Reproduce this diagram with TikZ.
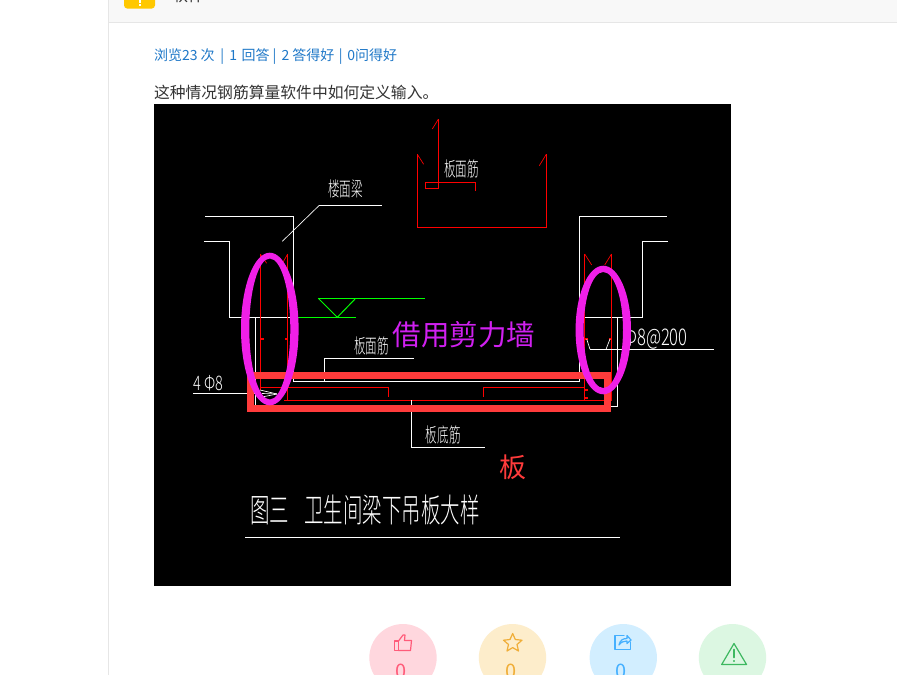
\documentclass[tikz,border=0pt]{standalone}
\usepackage{graphicx}
\usepackage{fontspec}
\setmainfont{Noto Sans CJK SC}
\IfFontExistsTF{Noto Sans CJK SC Light}{\newfontfamily\cadfont{Noto Sans CJK SC Light}}{\newfontfamily\cadfont{Noto Sans CJK SC}}
\newcommand{\pxs}[1]{\fontsize{\dimexpr#1pt*3/4\relax}{\dimexpr#1pt\relax}\selectfont}
\newcommand{\cad}[3]{\scalebox{#2}[1]{\cadfont\pxs{#1}#3}}
\definecolor{pagegray}{HTML}{F8F8F8}
\definecolor{rulegray}{HTML}{E6E6E6}
\definecolor{linkblue}{HTML}{1F78C8}
\definecolor{bodytext}{HTML}{333333}
\definecolor{cadred}{HTML}{FF0000}
\definecolor{cadgreen}{HTML}{00FF00}
\definecolor{markred}{HTML}{FF3B3B}
\definecolor{markmag}{HTML}{F01FE8}
\definecolor{wallmag}{HTML}{D020F0}
\definecolor{gold}{HTML}{FFC800}
\definecolor{likebg}{HTML}{FFD7DE}
\definecolor{favbg}{HTML}{FDEDCB}
\definecolor{sharebg}{HTML}{D2EEFF}
\definecolor{warnbg}{HTML}{DCF7E2}
\definecolor{likefg}{HTML}{FF5C7A}
\definecolor{favfg}{HTML}{F0AE38}
\definecolor{sharefg}{HTML}{45B0FF}
\definecolor{warnfg}{HTML}{3DB860}
\begin{document}
\begin{tikzpicture}[x=0.75pt,y=-0.75pt,
  txt/.style={inner sep=0,outer sep=0,anchor=west},
  lab/.style={inner sep=0,outer sep=0,text=white},
  wline/.style={draw=white,line width=0.75pt},
  thin white/.style={draw=white,line width=0.5pt},
  rline/.style={draw=cadred,line width=0.75pt},
  rthin/.style={draw=cadred,line width=0.5pt},
  gline/.style={draw=cadgreen,line width=0.75pt},
  markbox/.style={draw=markred,line width=5.25pt},
  markell/.style={fill=markmag,even odd rule},
  disc/.style={circle,minimum size=50.5pt,inner sep=0,outer sep=0},
  icon/.style={line width=0.9pt,line join=round,line cap=round}]
\useasboundingbox (0,0) rectangle (897,675);
\clip (0,0) rectangle (897,675);
\fill[white] (0,0) rectangle (897,675);
% page chrome
\fill[pagegray] (109,0) rectangle (897,22);
\draw[rulegray,line width=0.75pt] (109,22.5) -- (897,22.5);
\draw[rulegray,line width=0.75pt] (108.5,0) -- (108.5,675);
\fill[gold,rounded corners=2.5pt] (124,-8) rectangle (155,8.6);
\fill[white] (139,0) rectangle (141,2.8);
\fill[white] (139,3.8) rectangle (141,5.6);
\node[txt,text=bodytext] (headtxt) at (172,-5) {\pxs{16}软件};
\node[txt,text=linkblue] (stats) at (154,56.5) {\pxs{14}浏览23 次\hspace{1.9pt} | \hspace{1.5pt}1\hspace{1pt} 回答 | \hspace{1.5pt}2 答得好\hspace{1pt} | \hspace{1.2pt}0问得好};
\node[txt,text=bodytext] (question) at (154,92.5) {\pxs{15.8}这种情况钢筋算量软件中如何定义输入。};
% drawing
\fill[black] (154,104) rectangle (731,586);
% white outline
\draw[wline] (205,216.7) -- (293.3,216.7) -- (293.3,381) -- (579.7,381) -- (579.7,216.7) -- (666.7,216.7);
\draw[wline] (204,241.7) -- (229.5,241.7) -- (229.5,317.3) -- (293.3,317.3);
\draw[wline] (667.7,241.7) -- (642.3,241.7) -- (642.3,317.3) -- (579.7,317.3);
\draw[wline] (255.3,317.3) -- (255.3,406) -- (617.5,406) -- (617.5,317.3);
% red reinforcement
\draw[rline] (438.3,119.3) -- (438.3,188.3) -- (425.3,188.3) -- (425.3,182.3) -- (475.3,182.3) -- (475.3,190.7);
\draw[rthin] (438.3,119.3) -- (432.3,129);
\draw[rline] (417.3,154.3) -- (417.3,227.3) -- (546.3,227.3) -- (546.3,154.3);
\draw[rthin] (417.3,154.3) -- (423.7,164.3);
\draw[rthin] (546.3,154.3) -- (539.3,165.7);
\draw[rline] (260.3,254) -- (260.3,390);
\draw[rline] (287.7,254) -- (287.7,400);
\draw[rthin] (260.3,254) -- (266.7,263.3);
\draw[rthin] (287.7,254) -- (283.3,261.7);
\draw[rline] (584.7,254) -- (584.7,400);
\draw[rline] (611.5,254) -- (611.5,400);
\draw[rthin] (584.7,254) -- (591.7,265);
\draw[rthin] (611.5,254) -- (604.7,265);
\draw[rline] (260,387.3) -- (388.3,387.3) -- (388.3,396.7);
\draw[rline] (483.3,396.7) -- (483.3,387.3) -- (584.7,387.3);
\draw[rline] (284,400) -- (611.5,400);
\fill[cadred] (261,338) rectangle (264,340);
\fill[cadred] (285,338) rectangle (288,340);
\fill[cadred] (585,338) rectangle (588,340);
\fill[cadred] (609,338) rectangle (612,340);
\fill[cadred] (585,389) rectangle (588,391);
\fill[cadred] (585,397) rectangle (588,399);
% green level mark
\draw[gline] (318.3,298.3) -- (425,298.3);
\draw[gline] (318.3,298.3) -- (337.3,317.3) -- (355.7,298.3);
\draw[gline] (293.3,317.3) -- (355.7,317.3);
% leaders and CAD labels
\draw[thin white] (282.3,241.3) -- (319.3,205.3);
\draw[wline] (319.3,205.3) -- (381.7,205.3);
\node[lab] (beam) at (345.7,189.3) {\cad{20}{.58}{楼面梁}};
\node[lab] (topbar) at (461.7,169.3) {\cad{20}{.58}{板面筋}};
\draw[wline] (324.3,381) -- (324.3,358.7) -- (414,358.7);
\node[lab] (midbar) at (371.7,346) {\cad{20}{.58}{板面筋}};
\draw[wline] (411.7,400) -- (411.7,447.3) -- (485,447.3);
\node[lab] (botbar) at (443.3,435) {\cad{20}{.58}{板底筋}};
\draw[wline] (193,393.3) -- (256,393.3);
\draw[thin white] (260,390) -- (277,394);
\draw[thin white] (262,393.5) -- (277,394);
\draw[thin white] (262,397) -- (277,394);
\node[lab] (tie) at (208.3,383.2) {\cad{20}{.72}{4 Φ8}};
\draw[wline] (590,349.3) -- (714,349.3);
\draw[thin white] (586.7,339) -- (590,349.3);
\draw[thin white] (610,339) -- (606,349.3);
\node[lab] (stir) at (656,338.5) {\cad{23}{.72}{Φ8@200}};
\node[lab] (title) at (365,510) {\cad{33}{.59}{图三\hspace{19pt}卫生间梁下吊板大样}};
\draw[wline] (245,537.3) -- (619.7,537.3);
% annotations
\draw[markbox] (250.5,375.5) rectangle (607.5,408.5);
\path[markell] (269.8,329) ellipse [x radius=28.8,y radius=76.3] (269.8,329) ellipse [x radius=20.5,y radius=70.5];
\path[markell] (603.3,330) ellipse [x radius=27.7,y radius=64.3] (603.3,330) ellipse [x radius=19.7,y radius=58];
\node[inner sep=0,text=wallmag] (wall) at (464,335) {\pxs{28.5}借用剪力墙};
\node[inner sep=0,text=markred] (slab) at (512.5,467.5) {\pxs{27}板};
% buttons
\node[disc,fill=likebg] (like) at (403,657.7) {};
\node[disc,fill=favbg] (fav) at (512.5,657.7) {};
\node[disc,fill=sharebg] (share) at (623.3,657.7) {};
\node[disc,fill=warnbg] (warn) at (732.5,657.7) {};
\node[inner sep=0,text=likefg] (n1) at (401,671) {\pxs{20}0};
\node[inner sep=0,text=favfg] (n2) at (511,671) {\pxs{20}0};
\node[inner sep=0,text=sharefg] (n3) at (621,671) {\pxs{20}0};
\draw[icon,likefg] (394.5,641) rectangle (398.5,650.5);
\draw[icon,likefg] (398.5,641) -- (403,635) -- (405,635) -- (404.5,640.5) -- (411.5,640.5) -- (410.5,650.5) -- (398.5,650.5);
\draw[icon,favfg] (512.7,633.5) -- (515.3,639.5) -- (522,640.2) -- (517,644.5) -- (518.5,651) -- (512.7,647.6) -- (507,651) -- (508.5,644.5) -- (503.5,640.2) -- (510,639.5) -- cycle;
\draw[icon,sharefg] (624,635.5) -- (615,635.5) -- (615,649.5) -- (630.5,649.5) -- (630.5,642);
\draw[icon,sharefg] (619,645) .. controls (620,640) and (623,638.5) .. (627,638.5) -- (627,635.5) -- (631,640) -- (627,643.5) -- (627,641) .. controls (624,641) and (621,642) .. (619,645) -- cycle;
\draw[icon,warnfg] (734,643.5) -- (746.5,664.5) -- (721.7,664.5) -- cycle;
\draw[icon,warnfg,line width=1.2pt] (734,649.5) -- (734,657.5) (734,660.8) -- (734,661.2);
\end{tikzpicture}
\end{document}
